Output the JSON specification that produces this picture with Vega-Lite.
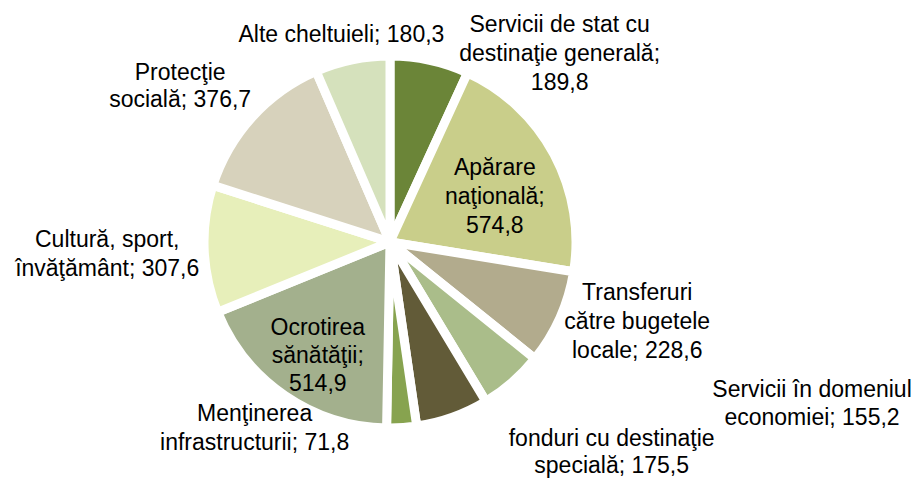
{
  "$schema": "https://vega.github.io/schema/vega-lite/v6.json",
  "autosize": "none",
  "width": 780,
  "height": 474,
  "padding": {"left": 0, "top": 5, "right": 142, "bottom": 0},
  "background": "white",
  "config": {"view": {"stroke": null}},
  "data": {
    "values": [
      {"i": 1, "k": "Servicii de stat cu destinaţie generală", "v": 189.8, "label": "Servicii de stat cu\ndestinaţie generală;\n189,8"},
      {"i": 2, "k": "Apărare naţională", "v": 574.8, "label": "Apărare\nnaţională;\n574,8"},
      {"i": 3, "k": "Transferuri către bugetele locale", "v": 228.6, "label": "Transferuri\ncătre bugetele\nlocale; 228,6"},
      {"i": 4, "k": "Servicii în domeniul economiei", "v": 155.2, "label": "Servicii în domeniul\neconomiei; 155,2"},
      {"i": 5, "k": "fonduri cu destinaţie specială", "v": 175.5, "label": "fonduri cu destinaţie\nspecială; 175,5"},
      {"i": 6, "k": "Menţinerea infrastructurii", "v": 71.8, "label": "Menţinerea\ninfrastructurii; 71,8"},
      {"i": 7, "k": "Ocrotirea sănătăţii", "v": 514.9, "label": "Ocrotirea\nsănătăţii;\n514,9"},
      {"i": 8, "k": "Cultură, sport, învăţământ", "v": 307.6, "label": "Cultură, sport,\nînvăţământ; 307,6"},
      {"i": 9, "k": "Protecţie socială", "v": 376.7, "label": "Protecţie\nsocială; 376,7"},
      {"i": 10, "k": "Alte cheltuieli", "v": 180.3, "label": "Alte cheltuieli;  180,3"}
    ]
  },
  "encoding": {
    "theta": {"field": "v", "type": "quantitative", "stack": true},
    "order": {"field": "i", "type": "quantitative"}
  },
  "layer": [
    {
      "mark": {"type": "arc", "outerRadius": 186, "stroke": "white", "strokeWidth": 9},
      "encoding": {
        "color": {
          "field": "k",
          "type": "nominal",
          "legend": null,
          "scale": {
            "domain": ["Servicii de stat cu destinaţie generală", "Apărare naţională", "Transferuri către bugetele locale", "Servicii în domeniul economiei", "fonduri cu destinaţie specială", "Menţinerea infrastructurii", "Ocrotirea sănătăţii", "Cultură, sport, învăţământ", "Protecţie socială", "Alte cheltuieli"],
            "range": ["#6B8538", "#C9CE8A", "#B2AB8D", "#AABD8A", "#625B38", "#87A34F", "#A3B08D", "#E7EFBA", "#D7D2BC", "#D5E1BC"]
          }
        }
      }
    },
    {"mark": {"type": "text", "radius": 200, "dx": 127, "dy": -22, "lineBreak": "\n", "font": "Liberation Sans", "fontSize": 23, "lineHeight": 29, "align": "center", "baseline": "middle", "color": "black"},
     "encoding": {"text": {"condition": {"test": "datum.i == 1", "field": "label"}, "value": ""}}},
    {"mark": {"type": "text", "radius": 112, "dx": 6, "dy": -21, "lineBreak": "\n", "font": "Liberation Sans", "fontSize": 23, "lineHeight": 29, "align": "center", "baseline": "middle", "color": "black"},
     "encoding": {"text": {"condition": {"test": "datum.i == 2", "field": "label"}, "value": ""}}},
    {"mark": {"type": "text", "radius": 240, "dx": 28, "dy": -47, "lineBreak": "\n", "font": "Liberation Sans", "fontSize": 23, "lineHeight": 29, "align": "center", "baseline": "middle", "color": "black"},
     "encoding": {"text": {"condition": {"test": "datum.i == 3", "field": "label"}, "value": ""}}},
    {"mark": {"type": "text", "radius": 210, "dx": 284, "dy": -10, "lineBreak": "\n", "font": "Liberation Sans", "fontSize": 23, "lineHeight": 28, "align": "center", "baseline": "middle", "color": "black"},
     "encoding": {"text": {"condition": {"test": "datum.i == 4", "field": "label"}, "value": ""}}},
    {"mark": {"type": "text", "radius": 228, "dx": 145, "dy": -18, "lineBreak": "\n", "font": "Liberation Sans", "fontSize": 23, "lineHeight": 27, "align": "center", "baseline": "middle", "color": "black"},
     "encoding": {"text": {"condition": {"test": "datum.i == 5", "field": "label"}, "value": ""}}},
    {"mark": {"type": "text", "radius": 185, "dx": -147, "dy": -13, "lineBreak": "\n", "font": "Liberation Sans", "fontSize": 23, "lineHeight": 29, "align": "center", "baseline": "middle", "color": "black"},
     "encoding": {"text": {"condition": {"test": "datum.i == 6", "field": "label"}, "value": ""}}},
    {"mark": {"type": "text", "radius": 140, "dx": 7, "dy": -29, "lineBreak": "\n", "font": "Liberation Sans", "fontSize": 23, "lineHeight": 28, "align": "center", "baseline": "middle", "color": "black"},
     "encoding": {"text": {"condition": {"test": "datum.i == 7", "field": "label"}, "value": ""}}},
    {"mark": {"type": "text", "radius": 283, "dx": 0, "dy": -13, "lineBreak": "\n", "font": "Liberation Sans", "fontSize": 23, "lineHeight": 29, "align": "center", "baseline": "middle", "color": "black"},
     "encoding": {"text": {"condition": {"test": "datum.i == 8", "field": "label"}, "value": ""}}},
    {"mark": {"type": "text", "radius": 240, "dx": -32, "dy": -8, "lineBreak": "\n", "font": "Liberation Sans", "fontSize": 23, "lineHeight": 27, "align": "center", "baseline": "middle", "color": "black"},
     "encoding": {"text": {"condition": {"test": "datum.i == 9", "field": "label"}, "value": ""}}},
    {"mark": {"type": "text", "radius": 210, "dx": -6, "dy": -1, "lineBreak": "\n", "font": "Liberation Sans", "fontSize": 23, "lineHeight": 29, "align": "center", "baseline": "middle", "color": "black"},
     "encoding": {"text": {"condition": {"test": "datum.i == 10", "field": "label"}, "value": ""}}}
  ]
}
